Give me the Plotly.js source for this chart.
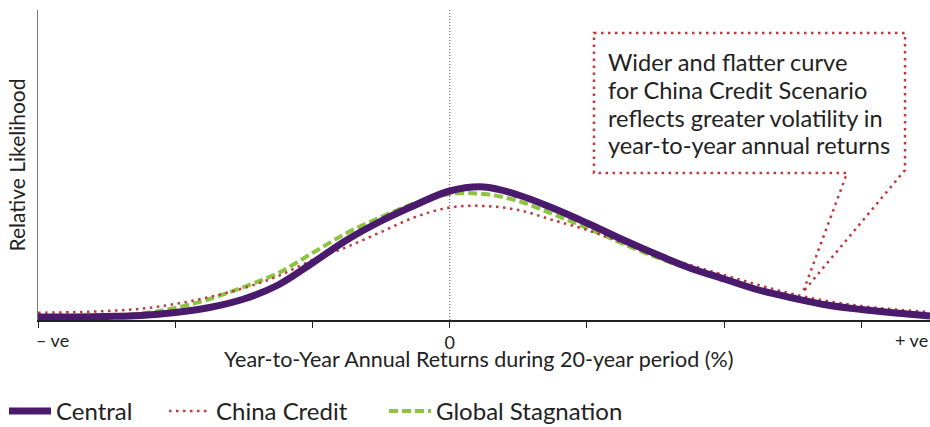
<!DOCTYPE html>
<html>
<head>
<meta charset="utf-8">
<script src="https://cdn.plot.ly/plotly-3.0.1.min.js"></script>
<style>html,body{margin:0;padding:0;background:#fff;}#chart{width:930px;height:427px;}</style>
</head>
<body>
<div id="chart"></div>
<script>
// x positions in tick units (0 = zero return, ticks at whole numbers)
const xVals = [-3, -2.75, -2.5, -2.25, -2, -1.75, -1.5, -1.25, -1, -0.75, -0.5, -0.25, 0,
               0.25, 0.5, 0.75, 1, 1.25, 1.5, 1.75, 2, 2.25, 2.5, 2.75, 3, 3.25, 3.5];
// relative likelihood (arbitrary units)
const central     = [3, 3, 3.5, 4.5, 7.5, 12.5, 21, 35, 57, 80, 99, 115, 129,
                     133, 125, 112, 97, 81, 66, 52, 41, 30, 22, 15, 10.5, 7, 4];
const chinaCredit = [7.3, 7.8, 9, 11.3, 16, 23, 32, 44, 60, 73, 88, 103, 112.5,
                     114, 110, 100, 90, 78, 66, 55, 45, 35, 26, 19, 14, 10.5, 8];
const globalStag  = [3, 3.5, 4.5, 6.5, 12, 21, 33, 47, 67, 87, 103, 117, 126,
                     126, 119, 106, 92, 77, 63, 51, 40, 29, 21, 14, 10, 6.5, 4];
const seriesNames = ['Central', 'China Credit', 'Global Stagnation'];
const xTickVals = [-3, -2, -1, 0, 1, 2, 3];
const xTickText = ['', '', '', '0', '', '', ''];
const endLabels = ['\u2013 ve', '+ ve'];
const xTitle = 'Year-to-Year Annual Returns during 20-year period (%)';
const yTitle = 'Relative Likelihood';
const calloutLines = ['Wider and flatter curve', 'for China Credit Scenario',
                      'reflects greater volatility in', 'year-to-year annual returns'];

const FONT = 'Lato, "Open Sans", sans-serif';
const PURPLE = '#4a1a6c';
const RED = '#c0393d';
const GREEN = '#8cc43f';
const TXT = '#222';

const traces = [
  {x: xVals, y: globalStag, name: seriesNames[2], type: 'scatter', mode: 'lines', legend: 'legend3',
   line: {color: GREEN, width: 4, dash: '9px,4px', shape: 'spline'}},
  {x: xVals, y: chinaCredit, name: seriesNames[1], type: 'scatter', mode: 'lines', legend: 'legend2',
   line: {color: RED, width: 2.5, dash: '2.5px,4.5px', shape: 'spline'}},
  {x: xVals, y: central, name: seriesNames[0], type: 'scatter', mode: 'lines', legend: 'legend',
   line: {color: PURPLE, width: 7, shape: 'spline'}}
];

// legends placed relative to the whole page (container)
const LEG_TOP = 389;
function legendAt(px) {
  return {orientation: 'h', xref: 'paper', x: (px - 38) / 892, xanchor: 'left',
          yref: 'container', y: (427 - LEG_TOP) / 427, yanchor: 'top',
          font: {size: 24, family: FONT, color: TXT}, itemwidth: 42, bgcolor: 'rgba(0,0,0,0)'};
}

const calloutAnns = calloutLines.map((t, i) => ({
  text: t, xref: 'paper', yref: 'paper', x: 0.6368, y: [0.8323, 0.7419, 0.6516, 0.5645][i],
  xanchor: 'left', yanchor: 'middle', align: 'left', showarrow: false,
  font: {size: 23.6, family: FONT, color: TXT}
}));

const layout = {
  width: 930, height: 427,
  margin: {l: 38, r: 0, t: 10, b: 107},
  paper_bgcolor: '#fff', plot_bgcolor: '#fff',
  font: {family: FONT, color: TXT, size: 18},
  showlegend: true,
  legend: legendAt(4),
  legend2: legendAt(164),
  legend3: legendAt(384),
  xaxis: {range: [-3, 3.5], showgrid: false, zeroline: false, showline: true,
          linecolor: '#222', linewidth: 1.5, ticks: 'outside', ticklen: 6, tickcolor: '#222',
          tickvals: xTickVals, ticktext: xTickText, tickfont: {size: 18}, fixedrange: true},
  yaxis: {range: [0, 310], showgrid: false, zeroline: false, showline: true,
          linecolor: '#777', linewidth: 1, showticklabels: false, ticks: '',
          title: {text: yTitle, font: {size: 21, family: FONT}, standoff: 5}, fixedrange: true},
  shapes: [
    {type: 'line', xref: 'x', yref: 'paper', x0: 0, x1: 0, y0: 0, y1: 1, layer: 'below',
     line: {color: '#555', width: 1, dash: '1px,2px'}},
    {type: 'path', xref: 'paper', yref: 'paper',
     path: 'M0.6233,0.9258 L0.9720,0.9258 L0.9720,0.4839 L0.8576,0.0903 L0.9070,0.4742 L0.6233,0.4742 Z',
     line: {color: RED, width: 2.5, dash: '2.5px,4.5px'}, fillcolor: 'rgba(0,0,0,0)'}
  ],
  annotations: [
    {text: endLabels[0], xref: 'x', yref: 'paper', x: -3, y: 0, xanchor: 'left', yanchor: 'top',
     xshift: -4, yshift: -7, showarrow: false, font: {size: 18, family: FONT, color: TXT}},
    {text: endLabels[1], xref: 'x', yref: 'paper', x: 3.5, y: 0, xanchor: 'right', yanchor: 'top',
     yshift: -7, showarrow: false, font: {size: 18, family: FONT, color: TXT}},
    // x-axis title
    {text: xTitle, xref: 'paper', yref: 'paper', x: 0.494, y: -0.126, xanchor: 'center', yanchor: 'middle',
     showarrow: false, font: {size: 21.5, family: FONT, color: TXT}}
  ].concat(calloutAnns)
};

Plotly.newPlot('chart', traces, layout, {displayModeBar: false, staticPlot: true});
</script>
</body>
</html>
